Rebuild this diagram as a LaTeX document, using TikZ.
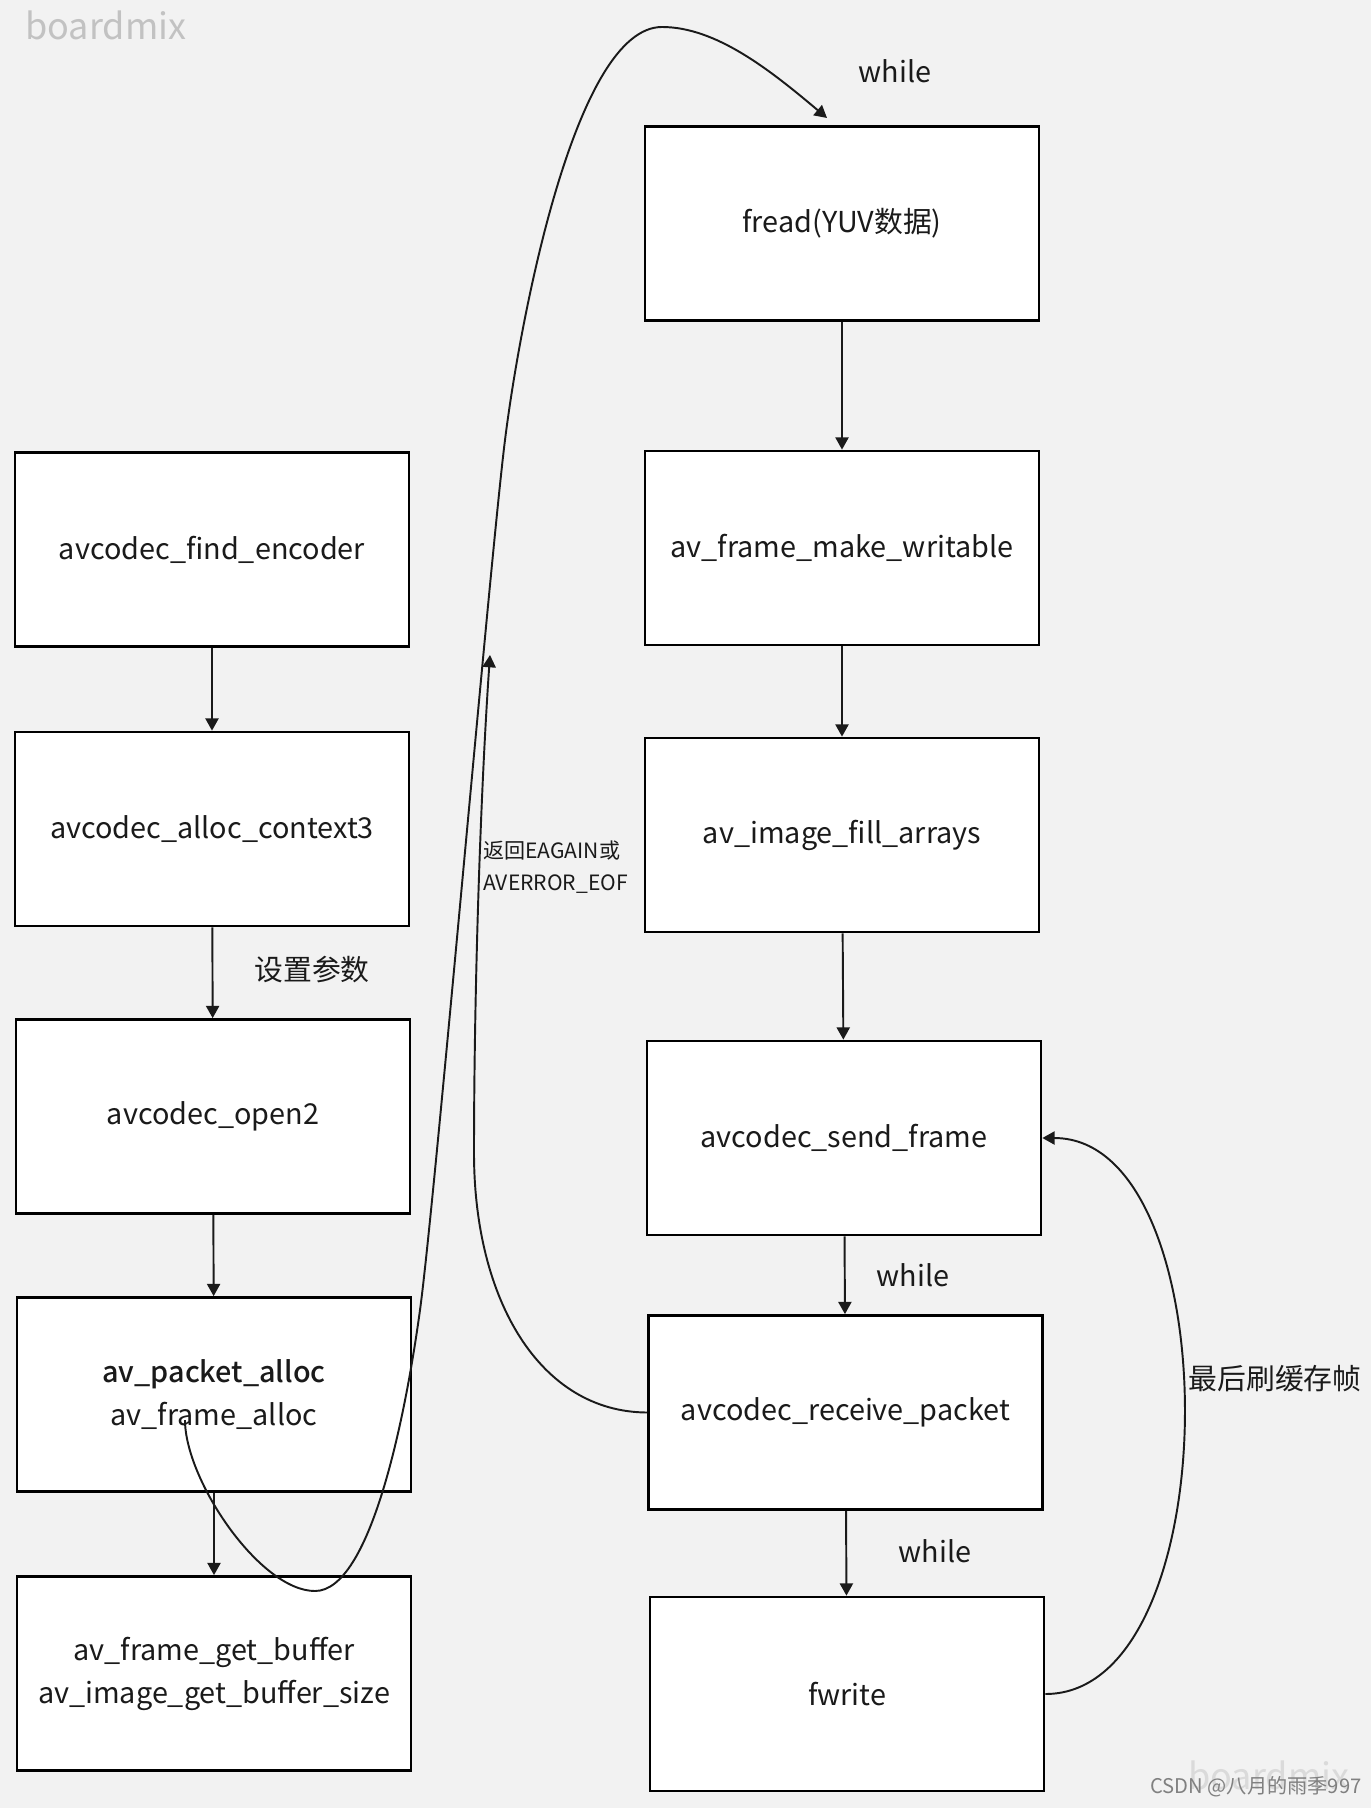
\documentclass[tikz,border=0pt]{standalone}
\usepackage{fontspec}
\setmainfont{Noto Sans CJK SC}[BoldFont={Noto Sans CJK SC Medium}]
\usetikzlibrary{arrows.meta}
\definecolor{bggray}{HTML}{F2F2F2}
\definecolor{ink}{HTML}{1A1A1A}
\definecolor{markgray}{HTML}{C2C2C2}

\begin{document}
\begin{tikzpicture}[x=0.02cm, y=-0.02cm,
    box/.style={draw=black, fill=white, line width=1.6pt, minimum width=7.88cm,
        minimum height=3.88cm, text=ink, align=center,
        font=\fontsize{16.4}{24.5}\selectfont},
    flow/.style={-{Triangle[length=7pt,width=7.5pt]}, line width=1.1pt, draw=ink},
    note/.style={text=ink, font=\fontsize{16.4}{20}\selectfont}]
    % Background
    \useasboundingbox (0,0) rectangle (1371,1808);
    \fill[bggray] (0,0) rectangle (1371,1808);

    % Left column
    \node[box] (find)   at (212,549.5)  {avcodec\_find\_encoder};
    \node[box] (ctx)    at (212,829)    {avcodec\_alloc\_context3};
    \node[box] (open)   at (213,1116.5) {avcodec\_open2};
    \node[box] (alloc)  at (214,1394.5) {\textbf{av\_packet\_alloc}\\av\_frame\_alloc};
    \node[box] (getbuf) at (214,1673.5) {av\_frame\_get\_buffer\\av\_image\_get\_buffer\_size};

    % Right column
    \node[box] (fread)  at (842,223.5)  {fread(YUV数据)};
    \node[box] (write)  at (842,548)    {av\_frame\_make\_writable};
    \node[box] (fill)   at (842,835)    {av\_image\_fill\_arrays};
    \node[box] (send)   at (844,1138)   {avcodec\_send\_frame};
    \node[box] (recv)   at (845.5,1412.5) {avcodec\_receive\_packet};
    \node[box] (fwrite) at (847,1694)   {fwrite};

    % Straight arrows
    \draw[flow] (find) -- (ctx);
    \draw[flow] (ctx) -- (open);
    \draw[flow] (open) -- (alloc);
    \draw[flow] (alloc) -- (getbuf);
    \draw[flow] (fread) -- (write);
    \draw[flow] (write) -- (fill);
    \draw[flow] (fill) -- (send);
    \draw[flow] (send) -- (recv);
    \draw[flow] (recv) -- (fwrite);

    % Loop back to fread
    \coordinate (loopstart) at (185,1420);
    \coordinate (freadin) at (827,118);
    \draw[flow] (loopstart) .. controls (185,1480) and (260,1591) .. (315,1591)
        .. controls (370,1591) and (405,1420) .. (420,1310)
        .. controls (435,1200) and (490,560) .. (505,440)
        .. controls (520,320) and (575,27) .. (662,27)
        .. controls (716,27) and (770,70) .. (freadin);

    % EAGAIN return
    \coordinate (backtip) at (490,655);
    \draw[flow] (recv.west) .. controls (540,1412) and (474,1300) .. (474,1153)
        .. controls (474,1000) and (480,800) .. (backtip);

    % Flush loop
    \draw[flow] (fwrite.east) .. controls (1230,1694) and (1230,1138) .. (send.east);

    % Labels
    \node[note] (while1) at (895,71) {while};
    \node[note] (setp) at (312,970) {设置参数};
    \node[note, anchor=west, align=left, inner sep=0pt,
        font=\fontsize{12}{18}\selectfont] (eagain) at (483,867) {返回EAGAIN或\\AVERROR\_EOF};
    \node[note] (while2) at (913,1275) {while};
    \node[note] (while3) at (935,1551) {while};
    \node[note] (flush) at (1275,1379) {最后刷缓存帧};

    % Watermarks
    \node[text=markgray, anchor=west, inner sep=0pt,
        font=\fontsize{20.5}{24}\selectfont] (markTL) at (25,25) {boardmix};
    \node[text=markgray!60, anchor=west, inner sep=0pt,
        font=\fontsize{20.5}{24}\selectfont] (markBR) at (1188,1775) {boardmix};
    \node[text=gray, anchor=west, inner sep=0pt,
        font=\fontsize{11.5}{14}\selectfont] (csdn) at (1150,1787) {CSDN @八月的雨季997};
\end{tikzpicture}
\end{document}
